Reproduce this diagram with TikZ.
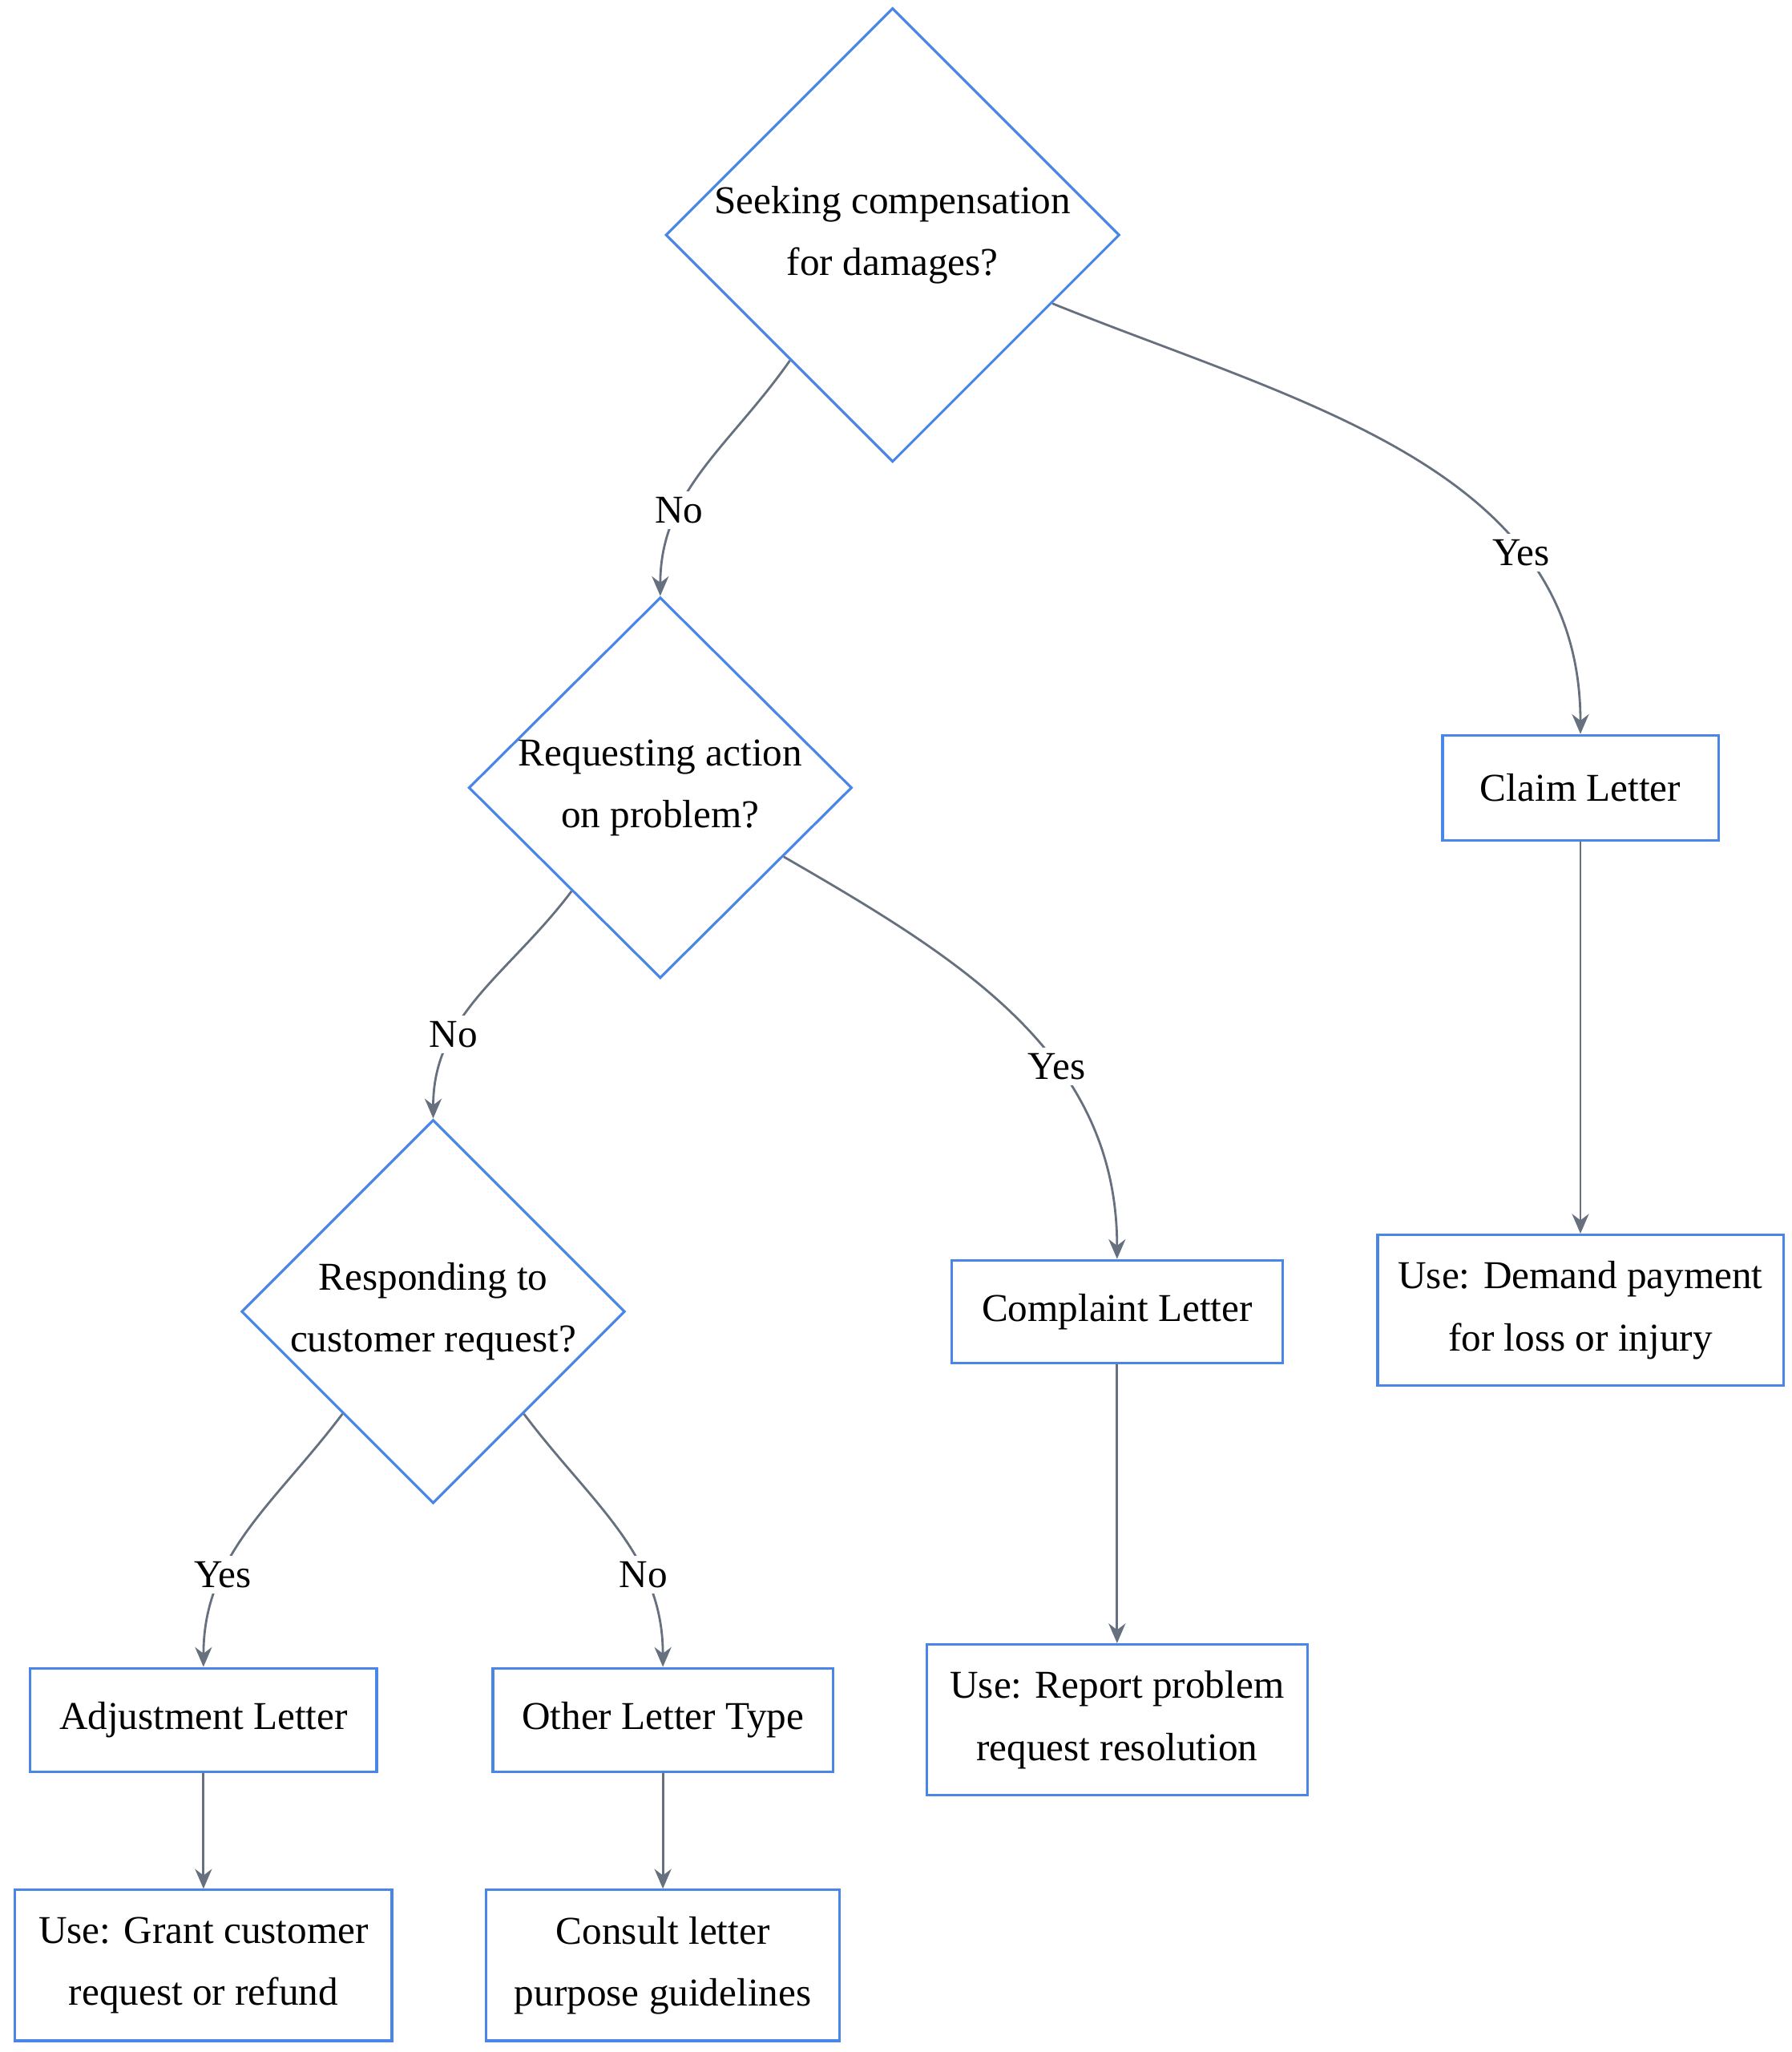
\documentclass[tikz,border=0pt]{standalone}
\usepackage{fontspec}
\setmainfont{Liberation Serif}
\usetikzlibrary{arrows.meta,shapes.geometric,calc}
\definecolor{boxblue}{HTML}{4A86E8}
\definecolor{linegray}{HTML}{66707E}
\tikzset{
  basic/.style   = {draw=boxblue, line width=0.9pt, fill=white, align=center, inner sep=0pt,
                    font=\fontsize{14}{22}\selectfont},
  decision/.style = {basic, diamond},
  letter/.style  = {basic, rectangle},
  link/.style    = {draw=linegray, line width=0.8pt, -{Stealth[length=7pt,width=6pt]}},
  answer/.style  = {fill=white, inner sep=2pt, font=\fontsize{14}{16}\selectfont}
}
\begin{document}
\begin{tikzpicture}[x=0.01638cm, y=-0.01638cm]
\useasboundingbox (0,0) rectangle (1365,1563);

% decisions
\node[decision, minimum width=5.50cm, minimum height=5.47cm] (d1) at (680,179) {Seeking compensation\\for damages?};
\node[decision, minimum width=4.78cm, minimum height=4.75cm] (d2) at (503,600) {Requesting action\\on problem?};
\node[decision, minimum width=4.78cm, minimum height=4.75cm] (d3) at (330,999) {Responding to\\customer request?};

% letters
\node[letter, minimum width=3.44cm, minimum height=1.31cm] (claim) at (1204,600) {Claim Letter};
\node[letter, minimum width=5.06cm, minimum height=1.88cm] (claimuse) at (1204,998) {Use: Demand payment\\for loss or injury};
\node[letter, minimum width=4.13cm, minimum height=1.28cm] (compl) at (851,999) {Complaint Letter};
\node[letter, minimum width=4.75cm, minimum height=1.88cm] (compluse) at (851,1310) {Use: Report problem\\request resolution};
\node[letter, minimum width=4.32cm, minimum height=1.29cm] (adj) at (155,1310) {Adjustment Letter};
\node[letter, minimum width=4.70cm, minimum height=1.88cm] (adjuse) at (155,1497) {Use: Grant customer\\request or refund};
\node[letter, minimum width=4.24cm, minimum height=1.29cm] (other) at (505,1310) {Other Letter Type};
\node[letter, minimum width=4.41cm, minimum height=1.88cm] (otheruse) at (505,1497) {Consult letter\\purpose guidelines};

% answers
\draw[link] ($(d1.west)!0.55!(d1.south)$) to[out=-125,in=90] node[answer, pos=0.68] {No} (d2.north);
\draw[link] ($(d1.east)!0.3!(d1.south)$) to[out=-22,in=90] node[answer, pos=0.72] {Yes} (claim.north);
\draw[link] ($(d2.west)!0.54!(d2.south)$) to[out=-127,in=90] node[answer, pos=0.68] {No} (d3.north);
\draw[link] ($(d2.east)!0.36!(d2.south)$) to[out=-30,in=90] node[answer, pos=0.62] {Yes} (compl.north);
\draw[link] ($(d3.west)!0.53!(d3.south)$) to[out=-127,in=90] node[answer, pos=0.68] {Yes} (adj.north);
\draw[link] ($(d3.east)!0.53!(d3.south)$) to[out=-53,in=90] node[answer, pos=0.68] {No} (other.north);

\foreach \from/\to in {claim/claimuse, compl/compluse, adj/adjuse, other/otheruse}
  \draw[link] (\from) -- (\to);
\end{tikzpicture}
\end{document}
